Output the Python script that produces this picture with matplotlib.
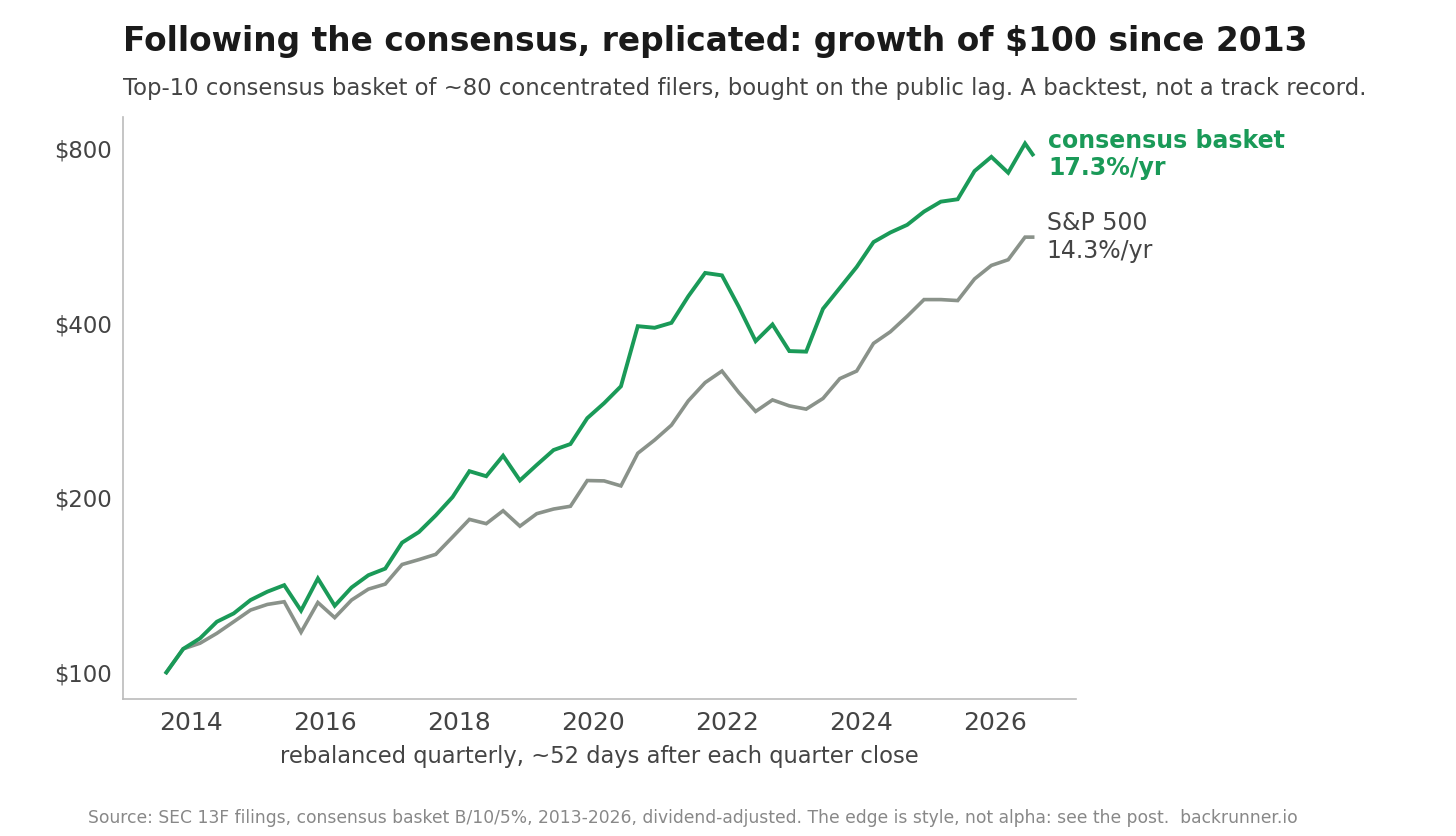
import numpy as np
import matplotlib.pyplot as plt
from matplotlib.ticker import FixedLocator, NullLocator

# quarterly rebalance dates (decimal years), last point is the partial current quarter
years = [2013.63 + 0.2512 * i for i in range(52)] + [2026.555]

basket = [100.0, 109.8, 114.5, 122.3, 126.4, 133.3, 137.8, 141.4, 127.8, 145.2,
          130.3, 140.1, 147.1, 151.0, 167.4, 174.6, 186.5, 200.6, 222.3, 217.9,
          236.4, 214.3, 227.9, 241.8, 247.6, 274.4, 291.2, 311.4, 395.3, 392.8,
          400.6, 445.1, 488.3, 483.6, 426.8, 372.5, 398.0, 358.1, 357.3, 423.5,
          460.1, 500.0, 551.9, 573.3, 591.0, 622.9, 648.0, 654.2, 731.7, 774.1,
          726.8, 816.3, 781.5]

spx = [100.0, 109.8, 112.3, 116.8, 122.3, 128.1, 131.0, 132.4, 117.3, 132.0,
       124.3, 133.3, 139.2, 142.0, 153.5, 156.5, 159.8, 171.2, 183.6, 180.5,
       190.0, 178.7, 187.8, 191.3, 193.4, 214.2, 213.9, 209.7, 238.7, 251.6,
       266.9, 293.9, 316.0, 330.8, 303.8, 281.8, 295.0, 288.1, 284.4, 296.7,
       321.0, 330.8, 369.2, 386.6, 411.2, 439.3, 439.3, 437.6, 476.8, 503.1,
       514.6, 562.9, 562.9]

yticks = [100, 200, 400, 800]
xticks = [2014, 2016, 2018, 2020, 2022, 2024, 2026]

green = "#1a9a58"
grey = "#8a928a"
txt = "#444444"

fig = plt.figure(figsize=(14.56, 8.36), dpi=100)
ax = fig.add_axes([0.0845, 0.164, 0.6545, 0.696])

ax.plot(years, spx, color=grey, lw=2.6, solid_joinstyle="miter")
ax.plot(years, basket, color=green, lw=2.8, solid_joinstyle="miter")
ax.set_yscale("log")

ax.yaxis.set_major_locator(FixedLocator(yticks))
ax.yaxis.set_minor_locator(NullLocator())
ax.set_yticklabels([f"${v}" for v in yticks])
ax.set_xticks(xticks)
ax.tick_params(axis="both", length=0, colors=txt)
ax.tick_params(axis="y", labelsize=16.4, pad=8)
ax.tick_params(axis="x", labelsize=18, pad=9)

for s in ["top", "right"]:
    ax.spines[s].set_visible(False)
for s in ["left", "bottom"]:
    ax.spines[s].set_color("#bbbbbb")
    ax.spines[s].set_linewidth(1.2)

ax.set_xlabel("rebalanced quarterly, ~52 days after each quarter close",
              fontsize=16.3, color=txt, labelpad=7)

ax.annotate("consensus basket\n17.3%/yr", xy=(years[-1], basket[-1]),
            xytext=(11, 0), textcoords="offset points", va="center", ha="left",
            fontsize=17, fontweight="bold", color=green, linespacing=1.2)
ax.annotate("S&P 500\n14.3%/yr", xy=(years[-1], spx[-1]),
            xytext=(10, 0), textcoords="offset points", va="center", ha="left",
            fontsize=17, color=txt, linespacing=1.2)

fig.text(123 / 1456, 1 - 41 / 836, "Following the consensus, replicated: growth of $100 since 2013",
         fontsize=23.7, fontweight="bold", color="#1a1a1a", va="center", ha="left")
fig.text(123 / 1456, 1 - 89 / 836,
         "Top-10 consensus basket of ~80 concentrated filers, bought on the public lag. A backtest, not a track record.",
         fontsize=16.35, color=txt, va="center", ha="left")
fig.text(88 / 1456, 1 - 818 / 836,
         "Source: SEC 13F filings, consensus basket B/10/5%, 2013-2026, dividend-adjusted. The edge is style, not alpha: see the post.  backrunner.io",
         fontsize=12.35, color="#888888", va="center", ha="left")

fig.savefig("out.png", dpi=100)
